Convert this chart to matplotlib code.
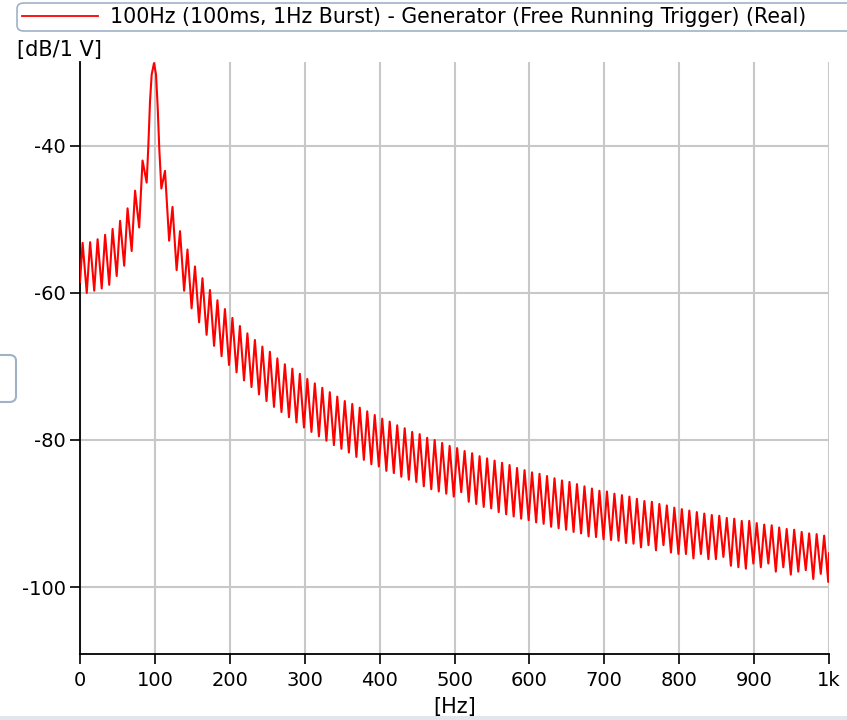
import matplotlib
matplotlib.use("Agg")
import matplotlib.pyplot as plt
from matplotlib.patches import FancyBboxPatch, Rectangle
from matplotlib.lines import Line2D

plt.rcParams["font.family"] = ["DejaVu Sans"]
plt.rcParams["axes.unicode_minus"] = False

# --- data (lobe peaks / troughs, main lobe shape) ---
freq_hz = [
    0, 3.5, 9, 13.5, 19, 23.5, 29, 33.5, 39, 43.5, 49, 53.5, 59, 63.5, 69, 73.5, 79, 83.5, 89,
    91.2, 93.5, 95.7, 98.8, 101.5, 103.7, 105.9, 108.6,
    113.5, 119, 123.5, 129, 133.5, 139, 143.5, 149, 153.5, 159, 163.5, 169, 173.5, 179,
    183.5, 189, 193.5, 199, 203.5, 209, 213.5, 219, 223.5, 229, 233.5, 239, 243.5, 249,
    253.5, 259, 263.5, 269, 273.5, 279, 283.5, 289, 293.5, 299, 303.5, 309, 313.5, 319,
    323.5, 329, 333.5, 339, 343.5, 349, 353.5, 359, 363.5, 369, 373.5, 379, 383.5, 389,
    393.5, 399, 403.5, 409, 413.5, 419, 423.5, 429, 433.5, 439, 443.5, 449, 453.5, 459,
    463.5, 469, 473.5, 479, 483.5, 489, 493.5, 499, 503.5, 509, 513.5, 519, 523.5, 529,
    533.5, 539, 543.5, 549, 553.5, 559, 563.5, 569, 573.5, 579, 583.5, 589, 593.5, 599,
    603.5, 609, 613.5, 619, 623.5, 629, 633.5, 639, 643.5, 649, 653.5, 659, 663.5, 669,
    673.5, 679, 683.5, 689, 693.5, 699, 703.5, 709, 713.5, 719, 723.5, 729, 733.5, 739,
    743.5, 749, 753.5, 759, 763.5, 769, 773.5, 779, 783.5, 789, 793.5, 799, 803.5, 809,
    813.5, 819, 823.5, 829, 833.5, 839, 843.5, 849, 853.5, 859, 863.5, 869, 873.5, 879,
    883.5, 889, 893.5, 899, 903.5, 909, 913.5, 919, 923.5, 929, 933.5, 939, 943.5, 949,
    953.5, 959, 963.5, 969, 973.5, 979, 983.5, 989, 993.5, 999, 1000,
]
level_db = [
    -58.5, -53.2, -60.0, -53.1, -59.7, -52.7, -59.4, -52.1, -58.9, -51.3, -57.7, -50.2, -56.3,
    -48.5, -54.3, -46.1, -51.1, -42.0, -45.0,
    -40.1, -33.9, -30.3, -28.75, -30.3, -34.7, -40.5, -45.8,
    -43.4, -52.9, -48.3, -56.9, -51.6, -59.7, -54.1, -62.1, -56.4, -64.0, -58.0, -65.7, -59.6, -67.2,
    -61.0, -68.6, -62.2, -69.8, -63.4, -70.8, -64.5, -71.9, -65.5, -72.8, -66.4, -73.8, -67.3, -74.7,
    -68.0, -75.5, -68.9, -76.2, -69.7, -76.9, -70.3, -77.6, -71.0, -78.3, -71.7, -78.9, -72.3, -79.5,
    -72.9, -80.1, -73.5, -80.7, -74.1, -81.2, -74.7, -81.7, -75.1, -82.3, -75.6, -82.7, -76.1, -83.3,
    -76.6, -83.6, -77.1, -84.2, -77.5, -84.5, -78.0, -85.0, -78.4, -85.4, -78.9, -85.7, -79.2, -86.3,
    -79.7, -86.7, -80.0, -87.0, -80.4, -87.3, -80.8, -87.7, -81.1, -87.1, -81.5, -88.4, -81.8, -88.7,
    -82.2, -89.1, -82.5, -89.3, -82.8, -89.8, -83.1, -90.1, -83.4, -90.4, -83.8, -90.7, -84.1, -90.9,
    -84.4, -91.2, -84.6, -91.4, -84.9, -91.8, -85.2, -92.0, -85.5, -92.2, -85.7, -92.5, -86.0, -92.7,
    -86.3, -93.1, -86.6, -93.2, -86.9, -93.5, -87.0, -93.6, -87.3, -93.7, -87.5, -94.0, -87.7, -94.1,
    -88.0, -94.6, -88.3, -94.3, -88.4, -95.0, -88.7, -94.3, -88.9, -95.3, -89.2, -95.5, -89.4, -95.5,
    -89.6, -96.1, -89.8, -95.5, -90.0, -96.2, -90.2, -96.2, -90.3, -95.9, -90.6, -97.1, -90.7, -97.3,
    -91.0, -97.5, -91.0, -96.8, -91.3, -97.3, -91.5, -96.8, -91.6, -97.9, -91.9, -97.3, -92.1, -98.3,
    -92.2, -97.9, -92.5, -97.7, -92.7, -98.9, -92.8, -98.2, -93.0, -99.3, -95.4,
]

x_ticks = [0, 100, 200, 300, 400, 500, 600, 700, 800, 900, 1000]
x_tick_labels = ["0", "100", "200", "300", "400", "500", "600", "700", "800", "900", "1k"]
y_ticks = [-100, -80, -60, -40]
series_label = "100Hz (100ms, 1Hz Burst) - Generator (Free Running Trigger) (Real)"

W, H = 847, 720
fig = plt.figure(figsize=(W / 100, H / 100), dpi=100)
ax = fig.add_axes([80 / W, 1 - 654 / H, 749 / W, 592 / H])

ax.plot(freq_hz, level_db, color="#ff0000", lw=1.5, zorder=3)

ax.set_xlim(0, 1000)
ax.set_ylim(-109.1, -28.6)
ax.set_xticks(x_ticks)
ax.set_xticklabels(x_tick_labels)
ax.set_yticks(y_ticks)
ax.grid(True, color="#c8c8c8", lw=1.5)
ax.set_axisbelow(True)
for s in ("top", "right"):
    ax.spines[s].set_visible(False)
for s in ("left", "bottom"):
    ax.spines[s].set_linewidth(1.3)
ax.tick_params(axis="both", labelsize=14, length=7, width=1.2, direction="out")
ax.tick_params(axis="x", pad=5)
ax.tick_params(axis="y", pad=3)
ax.set_xlabel("[Hz]", fontsize=15, labelpad=5)

# y unit label at top-left
fig.text(17 / W, 1 - 50 / H, "[dB/1 V]", fontsize=15, ha="left", va="center")

# legend box across the top
fig.patches.append(FancyBboxPatch((17 / W, 1 - 31 / H), 860 / W, 28 / H,
                                  boxstyle="round,pad=0,rounding_size=0.008",
                                  transform=fig.transFigure, fc="white",
                                  ec="#9fb2c8", lw=1.2, clip_on=False))
fig.lines.append(Line2D([22 / W, 98 / W], [1 - 16 / H, 1 - 16 / H],
                        transform=fig.transFigure, color="#ff0000", lw=1.3))
fig.text(110 / W, 1 - 17 / H, series_label, fontsize=14.8, ha="left", va="center")

# small widget box on the left edge
fig.patches.append(FancyBboxPatch((-12 / W, 1 - 402 / H), 28 / W, 47 / H,
                                  boxstyle="round,pad=0,rounding_size=0.008",
                                  transform=fig.transFigure, fc="white",
                                  ec="#9fb2c8", lw=1.5, clip_on=False))
# light strip at the bottom edge
fig.patches.append(Rectangle((0, 0), 1, 4 / H, transform=fig.transFigure,
                             fc="#e3e7eb", ec="none"))

fig.savefig("out.png", dpi=100)
